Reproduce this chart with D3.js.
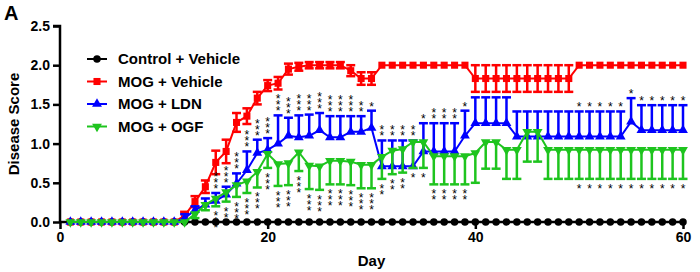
<!DOCTYPE html>
<html>
<head>
<meta charset="utf-8">
<script src="https://cdn.jsdelivr.net/npm/d3@7"></script>
<style>
    body { margin: 0; background: #fff; }
    text { font-family: "Liberation Sans", Arial, sans-serif; }
</style>
</head>
<body>
<div id="chart"></div>
<script>
const days = [1, 2, 3, 4, 5, 6, 7, 8, 9, 10, 11, 12, 13, 14, 15, 16, 17, 18, 19, 20,
    21, 22, 23, 24, 25, 26, 27, 28, 29, 30, 31, 32, 33, 34, 35, 36, 37, 38, 39, 40,
    41, 42, 43, 44, 45, 46, 47, 48, 49, 50, 51, 52, 53, 54, 55, 56, 57, 58, 59, 60];

const controlVehicle = [0, 0, 0, 0, 0, 0, 0, 0, 0, 0, 0, 0, 0, 0, 0, 0, 0, 0, 0, 0,
    0, 0, 0, 0, 0, 0, 0, 0, 0, 0, 0, 0, 0, 0, 0, 0, 0, 0, 0, 0,
    0, 0, 0, 0, 0, 0, 0, 0, 0, 0, 0, 0, 0, 0, 0, 0, 0, 0, 0, 0];

const mogVehicle = [0, 0, 0, 0, 0, 0, 0, 0, 0, 0, 0, 0.08, 0.26, 0.45, 0.76, 0.9, 1.27, 1.35, 1.58, 1.74,
    1.77, 1.95, 1.98, 2, 2, 2, 2, 1.93, 1.83, 1.83, 2, 2, 2, 2, 2, 2, 2, 2, 2, 1.83,
    1.83, 1.83, 1.83, 1.83, 1.83, 1.83, 1.83, 1.83, 1.83, 2, 2, 2, 2, 2, 2, 2, 2, 2, 2, 2];
const mogVehicleErr = [0, 0, 0, 0, 0, 0, 0, 0, 0, 0, 0, 0.05, 0.07, 0.08, 0.15, 0.15, 0.12, 0.1, 0.08, 0.07,
    0.08, 0.07, 0.05, 0.04, 0.04, 0.04, 0.04, 0.07, 0.08, 0.08, 0, 0, 0, 0, 0, 0, 0, 0, 0, 0.17,
    0.17, 0.17, 0.17, 0.17, 0.17, 0.17, 0.17, 0.17, 0.17, 0, 0, 0, 0, 0, 0, 0, 0, 0, 0, 0];

const mogLdn = [0, 0, 0, 0, 0, 0, 0, 0, 0, 0, 0, 0.05, 0.15, 0.22, 0.27, 0.35, 0.49, 0.66, 0.88, 0.92,
    1.0, 1.1, 1.08, 1.1, 1.17, 1.08, 1.08, 1.15, 1.15, 1.2, 0.71, 0.71, 0.71, 0.71, 0.9, 0.9, 0.9, 0.9, 1.1, 1.26,
    1.26, 1.26, 1.26, 1.09, 1.09, 1.09, 1.09, 1.09, 1.09, 1.09, 1.09, 1.09, 1.09, 1.09, 1.28, 1.17, 1.17, 1.17, 1.17, 1.17];
const mogLdnErr = [0, 0, 0, 0, 0, 0, 0, 0, 0, 0, 0, 0.05, 0.05, 0.08, 0.1, 0.1, 0.13, 0.24, 0.17, 0.15,
    0.36, 0.23, 0.28, 0.27, 0.22, 0.27, 0.27, 0.2, 0.2, 0.22, 0.33, 0.33, 0.33, 0.33, 0.36, 0.36, 0.36, 0.36, 0.32, 0.33,
    0.33, 0.33, 0.33, 0.32, 0.32, 0.32, 0.32, 0.32, 0.32, 0.32, 0.32, 0.32, 0.32, 0.32, 0.3, 0.32, 0.32, 0.32, 0.32, 0.32];

const mogOgf = [0, 0, 0, 0, 0, 0, 0, 0, 0, 0, 0, 0, 0.1, 0.22, 0.3, 0.38, 0.47, 0.52, 0.64, 0.87,
    0.74, 0.75, 0.89, 0.72, 0.71, 0.78, 0.78, 0.77, 0.73, 0.73, 0.83, 0.91, 0.93, 1.02, 1.02, 0.84, 0.84, 0.84, 0.84, 0.88,
    1.02, 1.02, 0.92, 0.92, 1.15, 1.15, 0.92, 0.92, 0.92, 0.92, 0.92, 0.92, 0.92, 0.92, 0.92, 0.92, 0.92, 0.92, 0.92, 0.92];
const mogOgfErr = [0, 0, 0, 0, 0, 0, 0, 0, 0, 0, 0, 0, 0.05, 0.07, 0.1, 0.12, 0.15, 0.15, 0.2, 0.18,
    0.28, 0.28, 0.24, 0.3, 0.3, 0.3, 0.3, 0.3, 0.3, 0.3, 0.28, 0.3, 0.3, 0.33, 0.33, 0.36, 0.36, 0.36, 0.36, 0.38,
    0.34, 0.34, 0.37, 0.37, 0.38, 0.38, 0.37, 0.37, 0.37, 0.37, 0.37, 0.37, 0.37, 0.37, 0.37, 0.37, 0.37, 0.37, 0.37, 0.37];

// number of asterisks stacked above LDN / below OGF on each day
const ldnStars = [0, 0, 0, 0, 0, 0, 0, 0, 0, 0, 0, 0, 0, 0, 3, 3, 3, 3, 3, 3,
    3, 3, 3, 3, 3, 3, 3, 3, 2, 1, 2, 2, 2, 2, 1, 2, 2, 2, 1, 0,
    0, 0, 0, 0, 0, 0, 0, 0, 0, 1, 1, 1, 1, 1, 1, 1, 1, 1, 1, 1];
const ogfStars = [0, 0, 0, 0, 0, 0, 0, 0, 0, 0, 0, 0, 0, 0, 3, 3, 3, 3, 3, 3,
    3, 3, 3, 3, 3, 3, 3, 3, 3, 3, 2, 2, 2, 1, 1, 2, 2, 2, 2, 0,
    0, 0, 0, 0, 0, 0, 0, 0, 0, 1, 1, 1, 1, 1, 1, 1, 1, 1, 1, 1];

const xTicks = [0, 20, 40, 60];
const yTicks = [0, 0.5, 1, 1.5, 2, 2.5];

const width = 700;
const height = 272;
const margin = { top: 26, right: 17, bottom: 50, left: 60 };

const svg = d3.select("#chart").append("svg")
    .attr("width", width)
    .attr("height", height);

const x = d3.scaleLinear().domain([0, 60]).range([margin.left, width - margin.right]);
const y = d3.scaleLinear().domain([0, 2.5]).range([height - margin.bottom, margin.top]);

// series: error direction 1 = up, -1 = down, 0 = both
const series = [
    { name: "Control + Vehicle", values: controlVehicle, err: null, color: "#000000", symbol: d3.symbolCircle, size: 44, rotate: 0, dir: 0 },
    { name: "MOG + Vehicle", values: mogVehicle, err: mogVehicleErr, color: "#ff0000", symbol: d3.symbolSquare, size: 50, rotate: 0, dir: 0 },
    { name: "MOG + LDN", values: mogLdn, err: mogLdnErr, color: "#0000ff", symbol: d3.symbolTriangle, size: 42, rotate: 0, dir: 1 },
    { name: "MOG + OGF", values: mogOgf, err: mogOgfErr, color: "#1ec41e", symbol: d3.symbolTriangle, size: 42, rotate: 180, dir: -1 },
];

// axes
const yAxis = svg.append("g")
    .attr("transform", `translate(${margin.left},0)`)
    .call(d3.axisLeft(y).tickValues(yTicks).tickFormat(d3.format(".1f")).tickSize(7).tickPadding(3));

const xAxis = svg.append("g")
    .attr("transform", `translate(0,${y(0)})`)
    .call(d3.axisBottom(x).tickValues(xTicks).tickSize(7).tickPadding(3));

[yAxis, xAxis].forEach((a) => {
    a.select(".domain").attr("stroke", "#000").attr("stroke-width", 2.5);
    a.selectAll(".tick line").attr("stroke", "#000").attr("stroke-width", 2.5);
    a.selectAll(".tick text")
        .attr("fill", "#000")
        .style("font-size", "14px")
        .style("font-weight", "bold");
});
yAxis.select(".domain").attr("d", `M-7,${y(2.5)}H0V${y(0) + 1}`);
xAxis.select(".domain").attr("d", `M${x(0) - 1},0H${x(60)}`);

svg.append("text")
    .attr("x", (x(0) + x(60)) / 2)
    .attr("y", 266)
    .attr("text-anchor", "middle")
    .style("font-size", "15px")
    .style("font-weight", "bold")
    .text("Day");

svg.append("text")
    .attr("transform", `translate(19,${(y(0) + y(2.5)) / 2}) rotate(-90)`)
    .attr("text-anchor", "middle")
    .style("font-size", "15px")
    .style("font-weight", "bold")
    .text("Disease Score");

svg.append("text")
    .attr("x", 4)
    .attr("y", 20)
    .style("font-size", "20px")
    .style("font-weight", "bold")
    .text("A");

// data
const line = d3.line()
    .x((d, i) => x(days[i]))
    .y((d) => y(d));

series.forEach((s) => {
    const g = svg.append("g");

    if (s.err) {
        const bars = g.selectAll(".bar")
            .data(s.values.map((v, i) => ({ day: days[i], v: v, e: s.err[i] })).filter((d) => d.e > 0))
            .enter()
            .append("g");
        const lo = (d) => (s.dir === 1 ? d.v : d.v - d.e);
        const hi = (d) => (s.dir === -1 ? d.v : d.v + d.e);
        bars.append("line")
            .attr("x1", (d) => x(d.day))
            .attr("x2", (d) => x(d.day))
            .attr("y1", (d) => y(lo(d)))
            .attr("y2", (d) => y(hi(d)))
            .attr("stroke", s.color)
            .attr("stroke-width", 2.5);
        if (s.dir !== -1) {
            bars.append("line")
                .attr("x1", (d) => x(d.day) - 4.5)
                .attr("x2", (d) => x(d.day) + 4.5)
                .attr("y1", (d) => y(hi(d)))
                .attr("y2", (d) => y(hi(d)))
                .attr("stroke", s.color)
                .attr("stroke-width", 2.5);
        }
        if (s.dir !== 1) {
            bars.append("line")
                .attr("x1", (d) => x(d.day) - 4.5)
                .attr("x2", (d) => x(d.day) + 4.5)
                .attr("y1", (d) => y(lo(d)))
                .attr("y2", (d) => y(lo(d)))
                .attr("stroke", s.color)
                .attr("stroke-width", 2.5);
        }
    }

    g.append("path")
        .attr("d", line(s.values))
        .attr("fill", "none")
        .attr("stroke", s.color)
        .attr("stroke-width", 2);

    g.selectAll(".pt")
        .data(s.values)
        .enter()
        .append("path")
        .attr("d", d3.symbol().type(s.symbol).size(s.size))
        .attr("transform", (d, i) => `translate(${x(days[i])},${y(d)}) rotate(${s.rotate})`)
        .attr("fill", s.color);
});

// asterisks, one text per star
const starSize = 12;
const starG = svg.append("g").style("font-size", `${starSize}px`);
function addStars(counts, values, errs, dir) {
    counts.forEach((n, i) => {
        const edge = dir === 1 ? y(values[i] + errs[i]) : y(values[i] - errs[i]);
        for (let k = 0; k < n; k++) {
            const cy = edge - dir * (7 + k * 6);
            starG.append("text")
                .attr("x", x(days[i]))
                .attr("y", cy + starSize * 0.58)
                .attr("text-anchor", "middle")
                .attr("fill", "#000")
                .text("*");
        }
    });
}
addStars(ldnStars, mogLdn, mogLdnErr, 1);
addStars(ogfStars, mogOgf, mogOgfErr, -1);

// legend
const legend = svg.append("g").attr("transform", "translate(87,59)");
const rows = legend.selectAll(".row")
    .data(series)
    .enter()
    .append("g")
    .attr("transform", (d, i) => `translate(0,${i * 22.5})`);
rows.append("line")
    .attr("x1", 0)
    .attr("x2", 20)
    .attr("stroke", (d) => d.color)
    .attr("stroke-width", 2);
rows.append("path")
    .attr("d", (d) => d3.symbol().type(d.symbol).size(d.size)())
    .attr("transform", (d) => `translate(10,0) rotate(${d.rotate})`)
    .attr("fill", (d) => d.color);
rows.append("text")
    .attr("x", 31)
    .attr("dy", "0.36em")
    .style("font-size", "15px")
    .style("font-weight", "bold")
    .text((d) => d.name);
</script>
</body>
</html>
